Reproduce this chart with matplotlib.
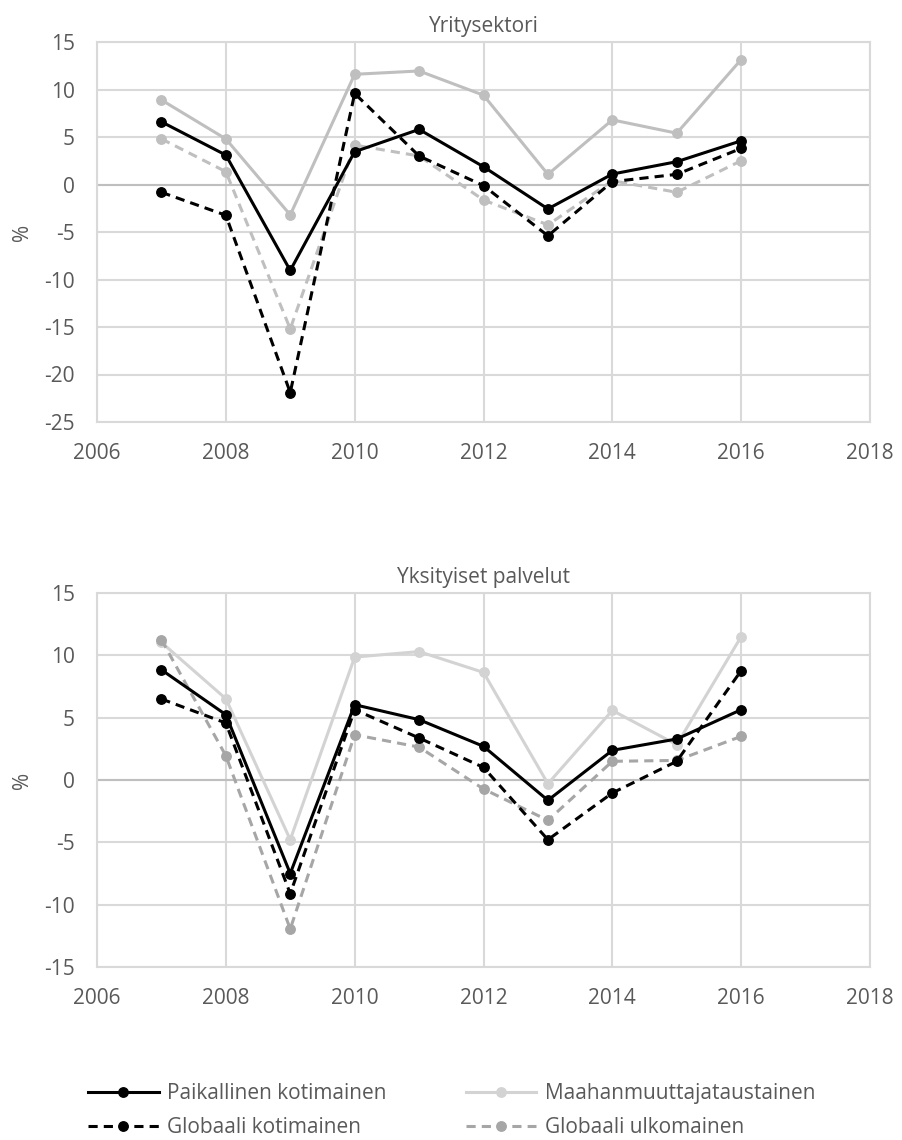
import matplotlib
matplotlib.use("Agg")
import matplotlib.pyplot as plt
from matplotlib.lines import Line2D

plt.rcParams['font.family'] = ['Open Sans', 'DejaVu Sans']

years = [2007, 2008, 2009, 2010, 2011, 2012, 2013, 2014, 2015, 2016]

# Yritysektori
top_paikallinen = [6.6, 3.1, -9.05, 3.45, 5.8, 1.87, -2.57, 1.1, 2.4, 4.6]
top_maahan = [8.9, 4.8, -3.2, 11.6, 11.95, 9.4, 1.07, 6.8, 5.4, 13.15]
top_glob_kot = [-0.82, -3.24, -21.9, 9.58, 3.0, -0.12, -5.4, 0.3, 1.07, 3.8]
top_glob_ulk = [4.8, 1.35, -15.2, 4.15, 3.0, -1.63, -4.25, 0.4, -0.82, 2.5]

# Yksityiset palvelut
bot_paikallinen = [8.84, 5.24, -7.5, 6.04, 4.84, 2.7, -1.63, 2.38, 3.29, 5.64]
bot_maahan = [11.04, 6.52, -4.79, 9.86, 10.3, 8.63, -0.3, 5.58, 2.83, 11.5]
bot_glob_kot = [6.5, 4.57, -9.12, 5.64, 3.37, 1.01, -4.79, -1.04, 1.5, 8.77]
bot_glob_ulk = [11.25, 1.95, -11.95, 3.63, 2.64, -0.72, -3.24, 1.5, 1.57, 3.5]

labels = ["Paikallinen kotimainen", "Maahanmuuttajataustainen",
          "Globaali kotimainen", "Globaali ulkomainen"]
titles = ["Yritysektori", "Yksityiset palvelut"]
xticks = [2006, 2008, 2010, 2012, 2014, 2016, 2018]
top_yticks = [15, 10, 5, 0, -5, -10, -15, -20, -25]
bot_yticks = [15, 10, 5, 0, -5, -10, -15]

TXT = '#595959'
GRID = '#d9d9d9'
FS = 15
LW = 2.2
MS = 6.8
DASH = (3, 2)

fig = plt.figure(figsize=(9.03, 11.4), dpi=100)
W, H = 903, 1140

def make_axes(top_px, bottom_px):
    left, right = 97, 870
    return fig.add_axes([left / W, 1 - bottom_px / H, (right - left) / W, (bottom_px - top_px) / H])

ax1 = make_axes(42, 422)
ax2 = make_axes(593, 967)

def style(ax, yticks, title):
    ax.set_xlim(2006, 2018)
    ax.set_ylim(min(yticks), max(yticks))
    ax.set_xticks(xticks)
    ax.set_yticks(yticks)
    ax.set_xticklabels([str(t) for t in xticks], fontsize=FS, color=TXT)
    ax.set_yticklabels([str(t) for t in yticks], fontsize=FS, color=TXT)
    ax.tick_params(axis='y', length=0, pad=16)
    ax.tick_params(axis='x', length=0, pad=15)
    ax.grid(True, color=GRID, linewidth=1.5, zorder=0)
    ax.set_axisbelow(True)
    for s in ax.spines.values():
        s.set_color(GRID)
        s.set_linewidth(1.5)
    ax.axhline(0, color='#bfbfbf', linewidth=1.5, zorder=1)
    ax.set_title(title, fontsize=FS, color=TXT, pad=7)
    ax.set_ylabel('%', fontsize=FS, color=TXT, labelpad=8)

def draw(ax, paik, maahan, gkot, gulk, c_maahan, c_gulk):
    ax.plot(years, maahan, color=c_maahan, lw=LW, marker='o', ms=MS, zorder=3)
    ax.plot(years, gulk, color=c_gulk, lw=LW, marker='o', ms=MS, dashes=DASH, zorder=4)
    ax.plot(years, gkot, color='black', lw=LW, marker='o', ms=MS, dashes=DASH, zorder=5)
    ax.plot(years, paik, color='black', lw=LW, marker='o', ms=MS, zorder=6)

style(ax1, top_yticks, titles[0])
draw(ax1, top_paikallinen, top_maahan, top_glob_kot, top_glob_ulk, '#bfbfbf', '#bfbfbf')
style(ax2, bot_yticks, titles[1])
draw(ax2, bot_paikallinen, bot_maahan, bot_glob_kot, bot_glob_ulk, '#d3d3d3', '#a6a6a6')

handles = [
    Line2D([], [], color='black', lw=LW, marker='o', ms=MS),
    Line2D([], [], color='black', lw=LW, marker='o', ms=MS, dashes=DASH),
    Line2D([], [], color='#d3d3d3', lw=LW, marker='o', ms=MS),
    Line2D([], [], color='#a6a6a6', lw=LW, marker='o', ms=MS, dashes=DASH),
]
hl = [labels[0], labels[2], labels[1], labels[3]]
leg = fig.legend(handles, hl, ncol=2, loc='center', bbox_to_anchor=(0.5, 1 - 1110.5 / H),
                 frameon=False, fontsize=FS, handlelength=3.4, handletextpad=0.4,
                 columnspacing=3.8, labelspacing=0.64, labelcolor=TXT)

fig.savefig('out.png', dpi=100)
